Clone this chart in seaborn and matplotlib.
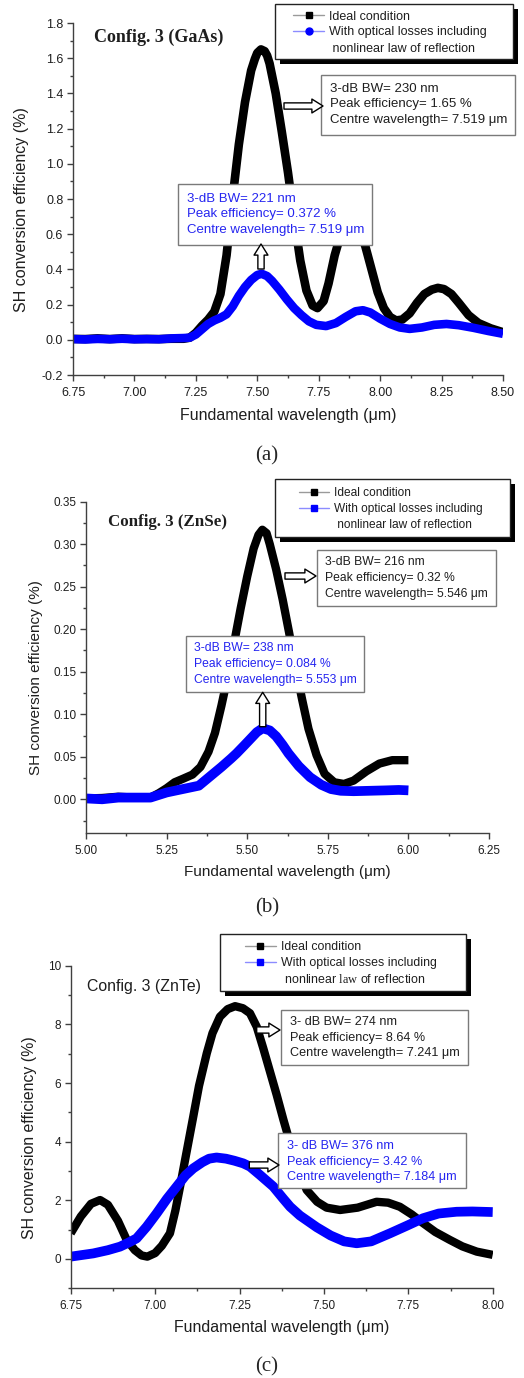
import matplotlib
matplotlib.use('Agg')
import matplotlib.pyplot as plt
import seaborn as sns
from matplotlib.lines import Line2D
from matplotlib.patches import Rectangle, FancyArrowPatch
from matplotlib.ticker import MultipleLocator, FormatStrFormatter


# (a) Config. 3 GaAs
gaas_wl_ideal = [6.75, 6.80, 6.85, 6.90, 6.95, 7.00, 7.05, 7.10, 7.15, 7.20, 7.225, 7.25, 7.275, 7.30,
                 7.325, 7.35, 7.375, 7.40, 7.425, 7.45, 7.475, 7.49, 7.50, 7.515, 7.53, 7.54, 7.55,
                 7.575, 7.60, 7.625, 7.65, 7.675, 7.70, 7.725, 7.745, 7.77, 7.79, 7.815, 7.84, 7.865,
                 7.89, 7.915, 7.94, 7.965, 7.99, 8.015, 8.04, 8.065, 8.09, 8.12, 8.15, 8.18, 8.21,
                 8.235, 8.26, 8.29, 8.32, 8.36, 8.40, 8.45, 8.50]
gaas_eff_ideal = [0.005, 0.004, 0.008, 0.004, 0.008, 0.004, 0.005, 0.004, 0.006, 0.006, 0.012, 0.04,
                  0.08, 0.115, 0.16, 0.26, 0.48, 0.81, 1.11, 1.35, 1.53, 1.595, 1.63, 1.65, 1.64,
                  1.615, 1.57, 1.40, 1.18, 0.95, 0.69, 0.45, 0.28, 0.195, 0.18, 0.22, 0.32, 0.48,
                  0.60, 0.67, 0.68, 0.63, 0.53, 0.40, 0.27, 0.18, 0.13, 0.11, 0.115, 0.15, 0.21,
                  0.26, 0.285, 0.295, 0.288, 0.26, 0.21, 0.14, 0.095, 0.065, 0.043]
gaas_wl_loss = [6.75, 6.80, 6.85, 6.90, 6.95, 7.00, 7.05, 7.10, 7.15, 7.20, 7.225, 7.25, 7.275, 7.30,
                7.325, 7.35, 7.375, 7.40, 7.425, 7.45, 7.475, 7.50, 7.518, 7.54, 7.56, 7.59, 7.62,
                7.65, 7.68, 7.71, 7.74, 7.78, 7.82, 7.86, 7.90, 7.93, 7.96, 8.00, 8.04, 8.08, 8.12,
                8.17, 8.22, 8.27, 8.32, 8.38, 8.44, 8.50]
gaas_eff_loss = [0.004, 0.002, 0.005, 0.003, 0.006, 0.003, 0.004, 0.003, 0.008, 0.01, 0.012, 0.03,
                 0.06, 0.09, 0.11, 0.125, 0.145, 0.19, 0.25, 0.30, 0.34, 0.368, 0.375, 0.362, 0.335,
                 0.285, 0.23, 0.18, 0.14, 0.105, 0.085, 0.078, 0.095, 0.13, 0.162, 0.168, 0.155,
                 0.12, 0.09, 0.07, 0.062, 0.07, 0.085, 0.09, 0.083, 0.068, 0.05, 0.034]

# (b) Config. 3 ZnSe
znse_wl_ideal = [5.00, 5.05, 5.10, 5.15, 5.20, 5.225, 5.25, 5.275, 5.30, 5.33, 5.355, 5.38, 5.40,
                 5.42, 5.44, 5.46, 5.48, 5.50, 5.52, 5.535, 5.547, 5.56, 5.57, 5.59, 5.61, 5.63,
                 5.65, 5.67, 5.69, 5.715, 5.74, 5.77, 5.80, 5.83, 5.87, 5.91, 5.95, 6.00]
znse_eff_ideal = [0.001, 0.0015, 0.003, 0.002, 0.002, 0.007, 0.013, 0.02, 0.024, 0.029, 0.038,
                  0.056, 0.078, 0.11, 0.145, 0.185, 0.225, 0.262, 0.295, 0.311, 0.317, 0.313,
                  0.30, 0.27, 0.235, 0.196, 0.155, 0.118, 0.083, 0.052, 0.03, 0.02, 0.018, 0.022,
                  0.033, 0.042, 0.046, 0.046]
znse_wl_loss = [5.00, 5.05, 5.10, 5.15, 5.20, 5.25, 5.30, 5.35, 5.385, 5.42, 5.45, 5.467, 5.49,
                5.51, 5.53, 5.548, 5.57, 5.59, 5.61, 5.628, 5.66, 5.695, 5.73, 5.76, 5.79, 5.83,
                5.88, 5.93, 5.97, 6.00]
znse_eff_loss = [0.001, 0.0, 0.002, 0.002, 0.002, 0.008, 0.012, 0.016, 0.027, 0.038, 0.048, 0.054,
                 0.063, 0.071, 0.079, 0.0835, 0.081, 0.074, 0.064, 0.054, 0.039, 0.026, 0.017,
                 0.012, 0.01, 0.0095, 0.01, 0.0105, 0.011, 0.0105]

# (c) Config. 3 ZnTe
znte_wl_ideal = [6.75, 6.78, 6.81, 6.837, 6.86, 6.89, 6.916, 6.94, 6.96, 6.977, 7.00, 7.02, 7.044,
                 7.06, 7.074, 7.09, 7.113, 7.13, 7.153, 7.17, 7.192, 7.215, 7.237, 7.26, 7.281,
                 7.301, 7.32, 7.34, 7.36, 7.38, 7.40, 7.425, 7.449, 7.48, 7.508, 7.548, 7.60,
                 7.656, 7.69, 7.725, 7.76, 7.794, 7.83, 7.873, 7.91, 7.953, 8.00]
znte_eff_ideal = [0.876, 1.45, 1.88, 2.01, 1.85, 1.3, 0.648, 0.3, 0.12, 0.08, 0.2, 0.45, 0.876,
                  1.65, 2.47, 3.45, 4.85, 5.9, 7.01, 7.7, 8.26, 8.52, 8.62, 8.55, 8.38, 7.92, 7.2,
                  6.4, 5.6, 4.75, 3.95, 3.05, 2.35, 1.95, 1.75, 1.67, 1.75, 1.95, 1.92, 1.78, 1.52,
                  1.22, 0.92, 0.65, 0.43, 0.25, 0.14]
znte_wl_loss = [6.75, 6.817, 6.86, 6.896, 6.92, 6.945, 6.975, 7.005, 7.035, 7.064, 7.09, 7.113,
                7.14, 7.16, 7.182, 7.21, 7.235, 7.261, 7.281, 7.31, 7.35, 7.38, 7.40, 7.429, 7.479,
                7.52, 7.56, 7.597, 7.64, 7.696, 7.745, 7.794, 7.84, 7.893, 7.94, 8.00]
znte_eff_loss = [0.08, 0.19, 0.3, 0.42, 0.55, 0.70, 1.1, 1.56, 2.05, 2.47, 2.85, 3.09, 3.3, 3.42,
                 3.46, 3.42, 3.35, 3.26, 3.15, 2.87, 2.47, 2.05, 1.78, 1.48, 1.08, 0.8, 0.6, 0.535,
                 0.6, 0.876, 1.13, 1.39, 1.55, 1.61, 1.62, 1.6]

x_label = 'Fundamental wavelength (μm)'
y_label = 'SH conversion efficiency (%)'
lbl_ideal = 'Ideal condition'
lbl_loss = 'With optical losses including'
lbl_loss2 = ' nonlinear law of reflection'

sns.set_style('ticks')
plt.rcParams['font.family'] = ['Liberation Sans', 'DejaVu Sans']
plt.rcParams['axes.unicode_minus'] = False
plt.rcParams['mathtext.fontset'] = 'custom'
plt.rcParams['mathtext.rm'] = 'Liberation Serif'

W, H = 524, 1378
fig = plt.figure(figsize=(W / 100, H / 100), dpi=100)
AXIS_COL = '#404040'
TXT_COL = '#1e1e1e'
BLUE_TXT = '#2525f0'


def fxy(px, py):
    return px / W, 1 - py / H


def pix_axes(x0, y0, x1, y1):
    return fig.add_axes([x0 / W, 1 - y1 / H, (x1 - x0) / W, (y1 - y0) / H])


def pix_rect(x0, y0, x1, y1, **kw):
    return Rectangle((x0 / W, 1 - y1 / H), (x1 - x0) / W, (y1 - y0) / H,
                     transform=fig.transFigure, **kw)


def draw_curves(ax, wl_i, eff_i, wl_l, eff_l, lw_k, lw_b):
    sns.lineplot(x=wl_i, y=eff_i, ax=ax, color='black', linewidth=lw_k, sort=False,
                 estimator=None, solid_capstyle='butt', solid_joinstyle='round')
    sns.lineplot(x=wl_l, y=eff_l, ax=ax, color='#0000ff', linewidth=lw_b, sort=False,
                 estimator=None, solid_capstyle='butt', solid_joinstyle='round')


def style_axes(ax, xlim, ylim, xstep, ystep, yfmt, tick_fs, lab_fs, ylab_xy, xlab_y):
    ax.set_xlim(*xlim)
    ax.set_ylim(*ylim)
    ax.xaxis.set_major_locator(MultipleLocator(xstep))
    ax.xaxis.set_minor_locator(MultipleLocator(xstep / 2))
    ax.yaxis.set_major_locator(MultipleLocator(ystep))
    ax.yaxis.set_minor_locator(MultipleLocator(ystep / 2))
    ax.xaxis.set_major_formatter(FormatStrFormatter('%.2f'))
    ax.yaxis.set_major_formatter(FormatStrFormatter(yfmt))
    sns.despine(ax=ax)
    for s in ('left', 'bottom'):
        ax.spines[s].set_color(AXIS_COL)
        ax.spines[s].set_linewidth(1)
    ax.tick_params(which='major', direction='out', length=4, width=1, color=AXIS_COL,
                   labelsize=tick_fs, labelcolor=TXT_COL)
    ax.tick_params(which='minor', direction='out', length=2.5, width=1, color=AXIS_COL)
    ax.tick_params(axis='x', which='major', pad=4.5)
    ax.tick_params(axis='y', which='major', pad=3)
    ax.set_xlabel(x_label, fontsize=lab_fs, color=TXT_COL)
    ax.set_ylabel(y_label, fontsize=lab_fs, color=TXT_COL)
    ax.yaxis.set_label_coords(*ylab_xy)
    ax.xaxis.set_label_coords(0.5, xlab_y)


def legend_box(x0, y0, x1, y1, hx, hy, marker_loss, fs, third_label):
    fig.add_artist(pix_rect(x0 + 5, y0 + 5, x1 + 5, y1 + 5, fc='black', ec='black', lw=0, zorder=1))
    fig.add_artist(pix_rect(x0, y0, x1, y1, fc='white', ec='#222222', lw=1, zorder=2))
    h_ideal = Line2D([], [], color='#9a9a9a', lw=1, marker='s', markersize=4.5,
                     markerfacecolor='black', markeredgecolor='black')
    h_loss = Line2D([], [], color='#8c8cff', lw=1, marker=marker_loss, markersize=5,
                    markerfacecolor='#0000ff', markeredgecolor='#0000ff')
    h_blank = Line2D([], [], linestyle='none')
    fig.legend([h_ideal, h_loss, h_blank], [lbl_ideal, lbl_loss, third_label],
               loc='upper left', bbox_to_anchor=fxy(hx, hy), bbox_transform=fig.transFigure,
               frameon=False, fontsize=fs, borderpad=0, borderaxespad=0, handlelength=2.5,
               handletextpad=0.4, labelspacing=0.32, labelcolor=TXT_COL)


def note_box(x0, y0, x1, y1, tx, ty, lines, color, fs):
    fig.add_artist(pix_rect(x0, y0, x1, y1, fc='white', ec='#7a7a7a', lw=1, zorder=2))
    fig.text(*fxy(tx, ty), '\n'.join(lines), color=color, fontsize=fs, ha='left',
             va='center', linespacing=1.42, zorder=4)


def hollow_arrow(x0, y0, x1, y1):
    fig.add_artist(FancyArrowPatch(fxy(x0, y0), fxy(x1, y1), transform=fig.transFigure,
                                   arrowstyle='simple,head_length=8,head_width=10,tail_width=4.5',
                                   mutation_scale=1, fc='white', ec='black', lw=1,
                                   shrinkA=0, shrinkB=0, zorder=3))


# ---------------- (a) GaAs ----------------
ax_a = pix_axes(73, 23, 503, 375)
draw_curves(ax_a, gaas_wl_ideal, gaas_eff_ideal, gaas_wl_loss, gaas_eff_loss, 6.2, 6.2)
style_axes(ax_a, (6.75, 8.5), (-0.2, 1.8), 0.25, 0.2, '%.1f', 9, 11.5, (-0.102, 0.469), -0.094)
fig.text(*fxy(94, 37), 'Config. 3 (GaAs)', family='Liberation Serif', weight='bold',
         fontsize=13, va='center', color=TXT_COL)
legend_box(275, 4, 513, 59, 293, 10.5, 'o', 9, lbl_loss2)
note_box(321, 75, 515, 135, 330, 104.5,
         ['3-dB BW= 230 nm', 'Peak efficiency= 1.65 %', 'Centre wavelength= 7.519 μm'], TXT_COL, 9.5)
hollow_arrow(284, 106, 323, 106)
note_box(178, 184, 372, 245, 187, 214.5,
         ['3-dB BW= 221 nm', 'Peak efficiency= 0.372 %', 'Centre wavelength= 7.519 μm'], BLUE_TXT, 9.5)
hollow_arrow(261, 269, 261, 244)
fig.text(*fxy(267, 456), '(a)', family='Liberation Serif', fontsize=15, ha='center', va='center')

# ---------------- (b) ZnSe ----------------
ax_b = pix_axes(86, 501.7, 489, 833.3)
draw_curves(ax_b, znse_wl_ideal, znse_eff_ideal, znse_wl_loss, znse_eff_loss, 6, 7)
style_axes(ax_b, (5.0, 6.25), (-0.04, 0.35), 0.25, 0.05, '%.2f', 8.5, 11, (-0.106, 0.470), -0.096)
fig.text(*fxy(108, 521.7), 'Config. 3 (ZnSe)', family='Liberation Serif', weight='bold',
         fontsize=12.2, va='center', color=TXT_COL)
legend_box(275, 479, 510, 537, 299, 487.5, 's', 8.6, lbl_loss2)
note_box(317, 550, 496, 606, 325, 577.8,
         ['3-dB BW= 216 nm', 'Peak efficiency= 0.32 %', 'Centre wavelength= 5.546 μm'], TXT_COL, 8.7)
hollow_arrow(285, 576, 316, 576)
note_box(186, 635.7, 364, 692.3, 194, 663.8,
         ['3-dB BW= 238 nm', 'Peak efficiency= 0.084 %', 'Centre wavelength= 5.553 μm'], BLUE_TXT, 8.7)
hollow_arrow(262.7, 726.7, 262.7, 692.3)
fig.text(*fxy(267, 908), '(b)', family='Liberation Serif', fontsize=15, ha='center', va='center')

# ---------------- (c) ZnTe ----------------
ax_c = pix_axes(70.7, 965.7, 492.7, 1288.3)
draw_curves(ax_c, znte_wl_ideal, znte_eff_ideal, znte_wl_loss, znte_eff_loss, 6, 7)
style_axes(ax_c, (6.75, 8.0), (-1, 10), 0.25, 2, '%d', 8.5, 11.4, (-0.079, 0.466), -0.098)
fig.text(*fxy(86.7, 986.7), 'Config. 3 (ZnTe)', fontsize=11.4, va='center', color=TXT_COL)
legend_box(220, 934.3, 465.7, 990.7, 245, 941.5, 's', 8.9, r' nonlinear $\mathrm{law}$ of reflection')
note_box(281, 1010, 468, 1065, 290, 1037.5,
         ['3- dB BW= 274 nm', 'Peak efficiency= 8.64 %', 'Centre wavelength= 7.241 μm'], TXT_COL, 9.1)
hollow_arrow(256.7, 1030, 280, 1030)
note_box(278.3, 1133.3, 466, 1188.3, 287.3, 1161.5,
         ['3- dB BW= 376 nm', 'Peak efficiency= 3.42 %', 'Centre wavelength= 7.184 μm'], BLUE_TXT, 9.1)
hollow_arrow(249.3, 1165, 279, 1165)
fig.text(*fxy(267, 1367), '(c)', family='Liberation Serif', fontsize=15, ha='center', va='center')

fig.savefig('out.png', dpi=100, facecolor='white')
